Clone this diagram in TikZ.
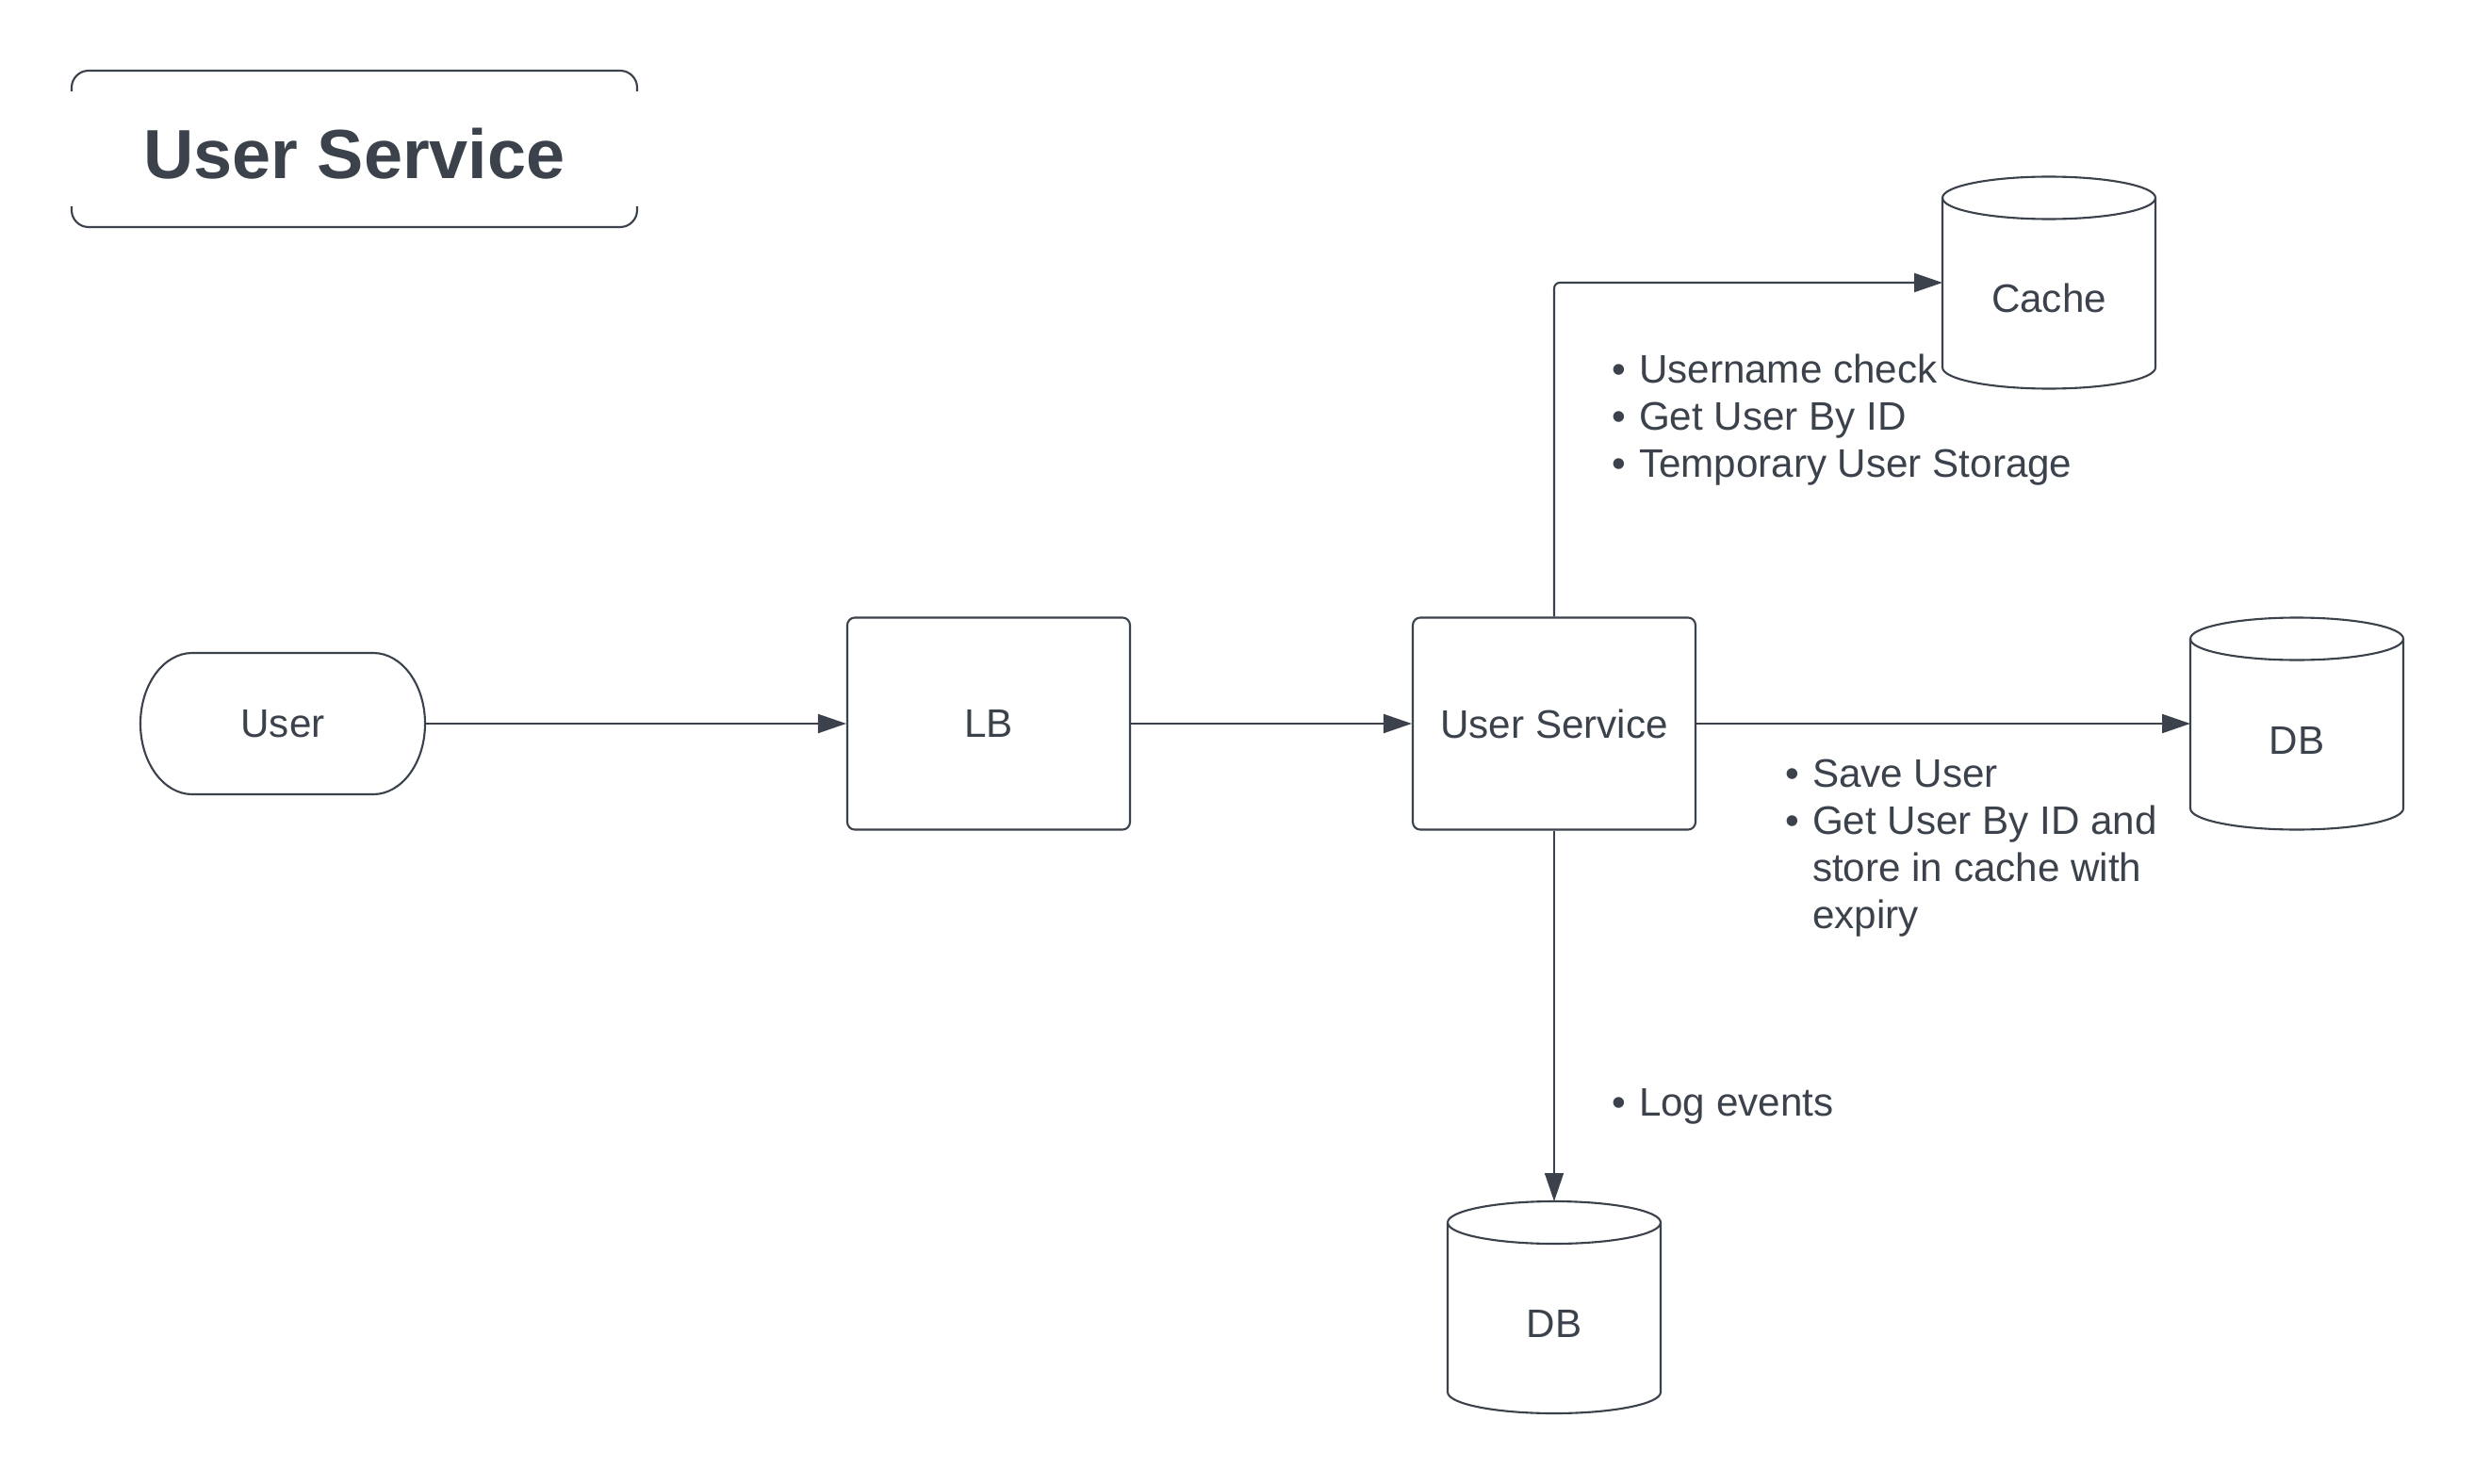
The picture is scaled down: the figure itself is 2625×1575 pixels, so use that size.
\documentclass[tikz,border=0pt]{standalone}
\usepackage{fontspec}
\setmainfont{Liberation Sans}
\usepackage{xcolor}
\usetikzlibrary{arrows.meta,calc}

\definecolor{ink}{HTML}{3B424B}

\tikzset{
  box/.style={draw, rounded corners=0.8mm, minimum width=30mm, minimum height=22.5mm, inner sep=0pt},
  store/.style={minimum width=22.6mm, minimum height=22.5mm, inner sep=0pt, outer sep=0pt, text height=6.4mm, text depth=0pt},
  note/.style={anchor=west, inner sep=0pt, align=left},
}
\newcommand{\bul}{\makebox[2.9mm][l]{\textbullet}}
\newcommand{\nobul}{\hspace*{2.9mm}}

\begin{document}
\begin{tikzpicture}[x=0.1mm, y=-0.1mm, color=ink, line width=0.6pt,
  font=\fontsize{12pt}{14.2pt}\selectfont, >={Triangle[length=3mm,width=2mm]}]
\path[use as bounding box, fill=white] (0,0) rectangle (2625,1575);

  \node[minimum width=60mm, minimum height=16.6mm, outer sep=0pt, text height=6.3mm, text depth=0pt,
        font=\fontsize{21pt}{25pt}\selectfont\bfseries]  (T) at (376,158)   {User Service};
  \node[minimum width=30.2mm, minimum height=15mm, outer sep=0pt] (U) at (300,768) {User};
  \node[box]                                            (LB) at (1049,768)  {LB};
  \node[box]                                            (US) at (1649,768)  {User Service};
  \node[store]                                          (C) at (2174,300)   {Cache};
  \node[store]                                          (DB1) at (2437,768) {DB};
  \node[store]                                          (DB2) at (1649,1387.5) {DB};

  \node[note] (N1) at (1709,446)  {\bul Username check\\\bul Get User By ID\\\bul Temporary User Storage};
  \node[note] (N2) at (1893,900)  {\bul Save User\\\bul Get User By ID and\\\nobul store in cache with\\\nobul expiry};
  \node[note] (N3) at (1709,1174) {\bul Log events};

  % title bracket
  \draw[rounded corners=1.8mm] ($(T.north west)+(0,-2.2mm)$) -- (T.north west) -- (T.north east) -- ($(T.north east)+(0,-2.2mm)$);
  \draw[rounded corners=1.8mm] ($(T.south west)+(0,2.2mm)$) -- (T.south west) -- (T.south east) -- ($(T.south east)+(0,2.2mm)$);

  % user terminal
  \draw ([xshift=5.5mm]U.north west) -- ([xshift=-5.5mm]U.north east)
    arc[start angle=90, end angle=-90, x radius=5.5mm, y radius=7.5mm]
    -- ([xshift=5.5mm]U.south west)
    arc[start angle=270, end angle=90, x radius=5.5mm, y radius=7.5mm] -- cycle;

  % cylinders
  \foreach \n in {C,DB1,DB2}{
    \draw ($(\n.north west)+(0,-2.25mm)$) -- ($(\n.south west)+(0,2.25mm)$)
      arc[start angle=180, end angle=360, x radius=11.3mm, y radius=2.25mm]
      -- ($(\n.north east)+(0,-2.25mm)$)
      arc[start angle=0, end angle=180, x radius=11.3mm, y radius=2.25mm];
    \draw ($(\n.north west)+(0,-2.25mm)$)
      arc[start angle=180, end angle=360, x radius=11.3mm, y radius=2.25mm];
  }

  \path[->]
        (U) edge              (LB)
        (LB) edge             (US)
        (US) edge             (DB1);

  \draw[->, rounded corners=0.6mm] (US.north) |- (C.west);
  \draw[->, line width=0.45pt] (US.south) -- (DB2.north);
\end{tikzpicture}
\end{document}
